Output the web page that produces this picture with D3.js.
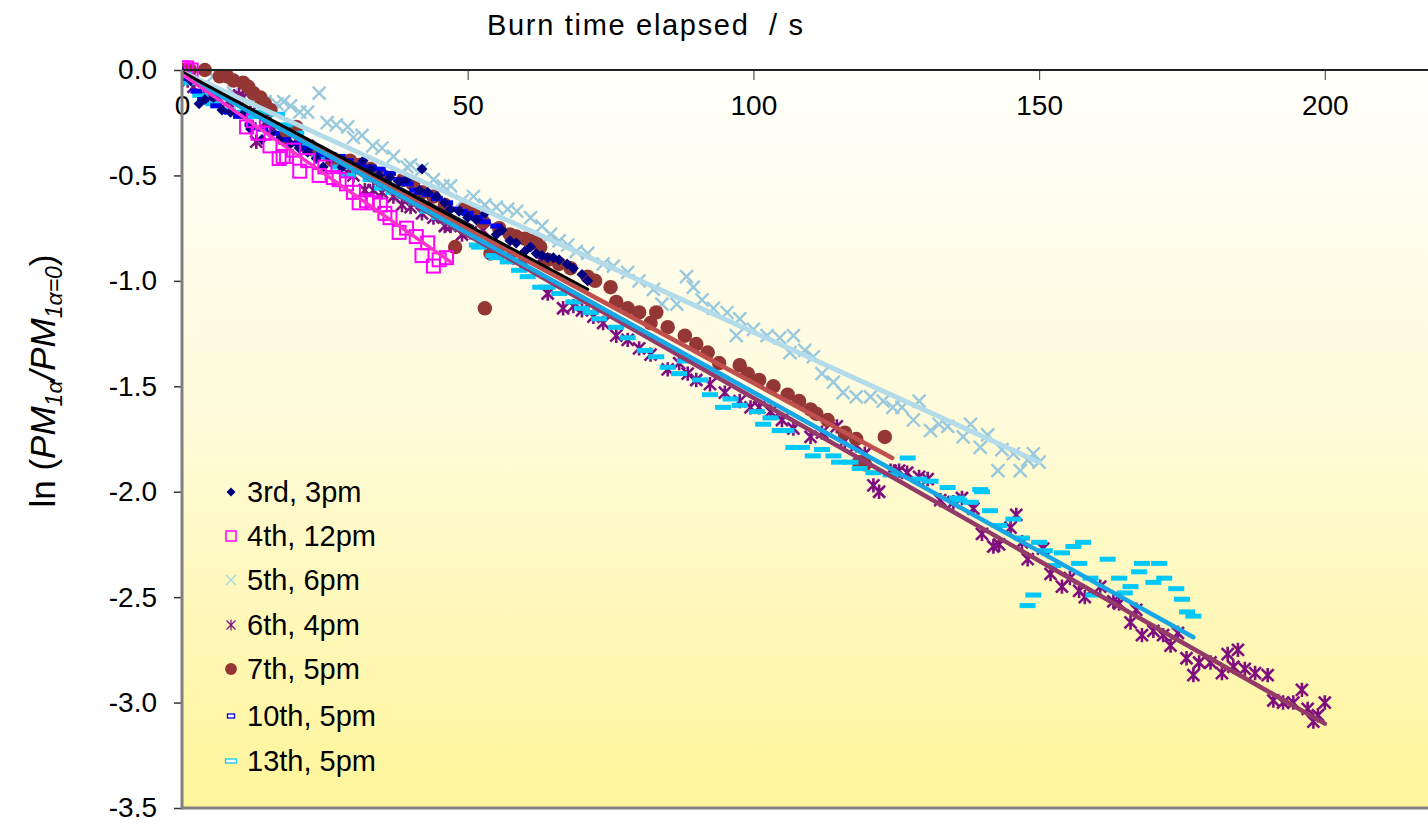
<!DOCTYPE html>
<html>
<head>
<meta charset="utf-8">
<script src="https://cdn.jsdelivr.net/npm/d3@7"></script>
<style>
  html, body { margin: 0; padding: 0; background: #ffffff; }
  svg { display: block; font-family: "Liberation Sans", Arial, sans-serif; }
</style>
</head>
<body>
<svg id="chart" width="1428" height="824"></svg>
<script>
// ---- data: [burn time (s), ln(PM1a / PM1a,t=0)] ----
const xTicks = [0, 50, 100, 150, 200];
const yTicks = [0, -0.5, -1.0, -1.5, -2.0, -2.5, -3.0, -3.5];

const run3rd = [[0,-0.01],[1.5,-0.05],[3,-0.16],[4,-0.14],[5.5,-0.13],[7,-0.19],[8.5,-0.2],[10.7,-0.21],[12,-0.28],[14,-0.33],[15.5,-0.3],[17,-0.33],[19,-0.35],[20.5,-0.37],[22,-0.39],[23.5,-0.42],[24.7,-0.46],[26,-0.42],[28,-0.46],[29.5,-0.45],[31.7,-0.43],[33,-0.47],[34.5,-0.5],[36.4,-0.51],[38,-0.53],[39.3,-0.52],[41.6,-0.57],[42,-0.47],[43,-0.58],[44.6,-0.6],[46,-0.63],[47,-0.66],[48.5,-0.67],[50,-0.7],[51.5,-0.71],[53,-0.68],[55,-0.78],[56,-0.76],[57.4,-0.81],[58.5,-0.82],[60,-0.86],[61,-0.84],[62,-0.87],[63,-0.88],[64,-0.89],[65,-0.89],[66,-0.9],[67.4,-0.92],[68.5,-0.94],[70,-0.97],[71,-1.0]];

const run4th = [[0,0.01],[0.8,0.01],[1.6,0.0],[11.3,-0.27],[12.5,-0.24],[13.3,-0.3],[14.2,-0.3],[15.4,-0.36],[17,-0.42],[17.7,-0.41],[18.3,-0.41],[19.5,-0.38],[20.6,-0.48],[22,-0.43],[24,-0.5],[25,-0.46],[26.5,-0.51],[27.5,-0.52],[28.8,-0.54],[30,-0.58],[31,-0.63],[32.3,-0.62],[33.5,-0.63],[34.7,-0.64],[35.5,-0.68],[36.4,-0.7],[38,-0.77],[39.3,-0.75],[41,-0.79],[42,-0.88],[43,-0.82],[44,-0.93],[45,-0.9],[46.3,-0.89]];

const run5th = [[0,0],[2,-0.02],[5.4,-0.03],[9,-0.11],[12,-0.14],[14.5,-0.15],[16.6,-0.16],[17.8,-0.15],[19,-0.17],[20.6,-0.2],[22,-0.2],[24,-0.11],[25.4,-0.25],[27,-0.26],[29,-0.27],[30,-0.32],[31.5,-0.31],[33.4,-0.36],[35,-0.37],[37,-0.41],[39.4,-0.46],[40,-0.45],[42,-0.47],[44,-0.52],[45.7,-0.55],[47,-0.55],[49,-0.62],[51,-0.6],[53,-0.64],[55,-0.65],[57,-0.66],[58.6,-0.67],[61,-0.7],[63,-0.74],[64.5,-0.78],[66,-0.81],[67.5,-0.83],[69,-0.86],[71,-0.87],[73.7,-0.92],[75.5,-0.93],[78,-0.96],[80,-1.0],[82.5,-1.04],[84,-1.11],[86.6,-1.11],[88.3,-0.98],[89.5,-1.03],[91,-1.09],[93,-1.13],[95.4,-1.15],[97,-1.26],[97.6,-1.18],[100,-1.23],[102.4,-1.26],[104.6,-1.27],[106.4,-1.34],[107,-1.26],[109,-1.33],[110.5,-1.36],[112,-1.44],[114,-1.48],[115.7,-1.53],[118,-1.55],[120.5,-1.55],[122.7,-1.57],[124.4,-1.6],[126,-1.6],[128,-1.66],[129,-1.57],[131,-1.71],[132.5,-1.68],[134,-1.69],[136.7,-1.74],[138,-1.68],[139.7,-1.79],[141,-1.73],[142.8,-1.9],[143.5,-1.8],[145.5,-1.82],[146.7,-1.9],[148,-1.85],[149,-1.82],[150,-1.86]];

const run6th = [[1,-0.05],[2,-0.08],[4,-0.1],[6,-0.12],[8,-0.15],[10,-0.12],[10.7,-0.13],[12,-0.2],[13,-0.34],[14.5,-0.25],[16,-0.28],[18,-0.3],[20,-0.33],[22,-0.36],[24,-0.4],[26,-0.42],[28,-0.46],[30,-0.5],[32,-0.57],[33.5,-0.57],[35,-0.58],[37,-0.6],[38.5,-0.64],[40,-0.65],[42,-0.68],[44,-0.7],[46,-0.74],[47,-0.74],[49,-0.78],[50.5,-0.77],[52.7,-0.76],[54,-0.82],[56,-0.86],[58,-0.89],[60,-0.92],[62.7,-0.9],[64,-1.06],[66.7,-1.13],[68.5,-1.12],[70,-1.14],[72,-1.17],[73.7,-1.2],[76,-1.26],[78,-1.28],[80,-1.32],[82,-1.35],[85,-1.42],[87,-1.39],[88.5,-1.44],[90,-1.47],[92.4,-1.49],[95,-1.53],[97.6,-1.57],[99.5,-1.6],[101,-1.6],[103,-1.62],[105,-1.66],[107,-1.7],[110,-1.74],[112,-1.72],[114.6,-1.69],[116,-1.76],[118,-1.78],[119.5,-1.82],[121,-1.97],[122,-2.0],[124,-1.9],[125.5,-1.9],[126.9,-1.91],[129,-1.93],[130.5,-1.94],[132.7,-2.04],[135,-2.05],[136.5,-2.03],[138.5,-2.08],[140,-2.2],[142,-2.26],[143,-2.25],[145,-2.17],[146,-2.11],[147,-2.24],[148,-2.32],[150.7,-2.27],[152,-2.39],[154,-2.45],[155.4,-2.41],[157,-2.47],[158,-2.5],[160.7,-2.45],[163,-2.52],[164,-2.53],[166,-2.62],[167,-2.56],[168,-2.68],[170,-2.66],[171.7,-2.68],[173,-2.73],[174.3,-2.67],[175.8,-2.79],[177,-2.87],[178,-2.81],[180,-2.81],[182,-2.86],[183,-2.77],[184,-2.83],[184.8,-2.75],[186,-2.84],[187.8,-2.86],[190,-2.87],[191,-2.99],[192.7,-3.0],[194.5,-3.0],[196,-2.94],[197,-3.03],[198,-3.09],[198.8,-3.06],[200,-3.0]];

const run7th = [[0,0.0],[1.4,0.0],[4,0.0],[6.6,-0.03],[7.9,-0.03],[9,-0.05],[10.7,-0.06],[11.6,-0.08],[12.5,-0.11],[13.7,-0.13],[14.5,-0.16],[15.5,-0.19],[17.7,-0.32],[20,-0.27],[22.4,-0.37],[23.5,-0.39],[26.4,-0.43],[29.4,-0.43],[31,-0.45],[33,-0.47],[35,-0.5],[38.7,-0.52],[40.4,-0.54],[42,-0.58],[44,-0.6],[46,-0.64],[47.8,-0.84],[49.5,-0.66],[51,-0.68],[52.7,-0.72],[53,-1.13],[54,-0.87],[55.5,-0.75],[57.4,-0.78],[58.5,-0.79],[60,-0.8],[61,-0.81],[62,-0.82],[62.7,-0.84],[64,-0.9],[66,-0.92],[68,-0.94],[71,-0.98],[72.3,-1.0],[75,-1.03],[76,-1.1],[78,-1.13],[80,-1.15],[82,-1.2],[83,-1.15],[85,-1.22],[88,-1.26],[90,-1.3],[92,-1.34],[94,-1.39],[97.6,-1.4],[99,-1.44],[101,-1.47],[103.5,-1.5],[106,-1.54],[108,-1.57],[110,-1.61],[111,-1.63],[113,-1.66],[116,-1.72],[118,-1.75],[118.5,-1.86],[119.5,-1.87],[123,-1.74]];

const run10th = [[1,-0.04],[2.5,-0.1],[3.7,-0.14],[6,-0.17],[8.4,-0.2],[10,-0.22],[12,-0.26],[14,-0.28],[16,-0.3],[18,-0.33],[20,-0.35],[22,-0.37],[24.5,-0.4],[26,-0.41],[27.6,-0.41],[29,-0.43],[31,-0.45],[33,-0.46],[34.6,-0.47],[36.4,-0.49],[38,-0.52],[39.5,-0.54],[40.8,-0.57],[41.6,-0.58],[43,-0.59],[44.6,-0.61],[46.4,-0.63],[48,-0.66],[49,-0.67],[50,-0.68],[51,-0.7],[51.6,-0.7],[53,-0.72],[55,-0.74]];

const run13th = [[0.5,-0.02],[1.4,-0.06],[3.2,-0.12],[5.5,-0.16],[8,-0.19],[10,-0.2],[12,-0.22],[14,-0.2],[16.6,-0.21],[18,-0.26],[20,-0.3],[22,-0.35],[24,-0.41],[26,-0.42],[27.5,-0.46],[29,-0.5],[31,-0.48],[33,-0.52],[35,-0.56],[37,-0.58],[39,-0.6],[41,-0.63],[43,-0.67],[45,-0.7],[47,-0.72],[49,-0.75],[51.6,-0.83],[52,-0.84],[54.5,-0.88],[55,-0.89],[57,-0.91],[59,-0.95],[60.5,-0.98],[62.7,-1.03],[64,-1.03],[66,-1.06],[68.5,-1.1],[70,-1.13],[71.5,-1.15],[73,-1.18],[76,-1.22],[78,-1.27],[81,-1.33],[83,-1.36],[85,-1.41],[87,-1.44],[88,-1.38],[90.7,-1.47],[92.4,-1.54],[94.7,-1.6],[96,-1.56],[97.6,-1.59],[100.6,-1.62],[101.7,-1.68],[103,-1.65],[104.6,-1.71],[105.8,-1.71],[107,-1.79],[108.5,-1.79],[110.4,-1.83],[112,-1.8],[114,-1.83],[115,-1.86],[117,-1.86],[118.6,-1.89],[121,-1.91],[124,-1.92],[127,-1.84],[129,-1.94],[131,-1.95],[134,-1.98],[135.6,-2.03],[136,-2.04],[138,-2.05],[139.7,-1.99],[140,-2.0],[141.4,-2.09],[143,-2.16],[145.5,-2.13],[147,-2.22],[148,-2.54],[149,-2.49],[150,-2.24],[151,-2.28],[152.5,-2.35],[154,-2.29],[156,-2.26],[157,-2.34],[157.7,-2.24],[159,-2.41],[159.5,-2.49],[162,-2.32],[164,-2.41],[165,-2.48],[166,-2.45],[167.5,-2.38],[168,-2.34],[170,-2.43],[171,-2.34],[171.9,-2.41],[174,-2.46],[175,-2.51],[175.9,-2.57],[177,-2.59]];

// linear trend lines: start and end points
const trend3rd  = [[0,-0.01],[71,-1.04]];
const trend4th  = [[0,-0.02],[47,-0.91]];
const trend5th  = [[0,-0.01],[150,-1.86]];
const trend6th  = [[0,-0.01],[200,-3.10]];
const trend7th  = [[0,-0.02],[124.3,-1.84]];
const trend10th = [[0,-0.01],[51,-0.74]];
const trend13th = [[0,-0.02],[177,-2.69]];

const seriesNames = ["3rd, 3pm","4th, 12pm","5th, 6pm","6th, 4pm","7th, 5pm","10th, 5pm","13th, 5pm"];

(function () {
// ---- layout ----
const svg = d3.select("#chart");
const W = 1428;
const plotLeft = 182, plotTop = 70, plotBottom = 808;
const pxPerSec = 5.714;

const x = d3.scaleLinear().domain([0, 250]).range([plotLeft, plotLeft + 250 * pxPerSec]);
const y = d3.scaleLinear().domain([-3.5, 0]).range([plotBottom, plotTop]);

// background gradient of the plot area
const defs = svg.append("defs");
const grad = defs.append("linearGradient").attr("id", "bg").attr("x1", 0).attr("y1", 0).attr("x2", 0).attr("y2", 1);
grad.append("stop").attr("offset", "0%").attr("stop-color", "#fffffb");
grad.append("stop").attr("offset", "45%").attr("stop-color", "#fffbdc");
grad.append("stop").attr("offset", "100%").attr("stop-color", "#fff59a");
defs.append("clipPath").attr("id", "plotclip").append("rect")
  .attr("x", plotLeft).attr("y", plotTop - 10).attr("width", W - plotLeft).attr("height", plotBottom - plotTop + 20);

svg.append("rect").attr("x", plotLeft).attr("y", plotTop).attr("width", W - plotLeft).attr("height", plotBottom - plotTop)
  .attr("fill", "url(#bg)");

// ---- marker shapes ----
function diamondPath(s) { return `M0,${-s}L${s},0L0,${s}L${-s},0Z`; }
const circle = d3.symbol().type(d3.symbolCircle).size(165)();
function crossPath(s) { return `M${-s},${-s}L${s},${s}M${-s},${s}L${s},${-s}`; }
function starPath(s) { return `M${-s},${-s}L${s},${s}M${-s},${s}L${s},${-s}M0,${-s*1.2}L0,${s*1.2}`; }

const plot = svg.append("g").attr("clip-path", "url(#plotclip)");
const gMarks = plot.append("g");
const gLines = plot.append("g");

function drawPoints(data, cls, fn) {
  const g = gMarks.append("g").attr("class", cls);
  g.selectAll("g").data(data).enter().append("g")
    .attr("transform", d => `translate(${x(d[0])},${y(d[1])})`)
    .each(function () { fn(d3.select(this)); });
}

// light blue crosses
drawPoints(run5th, "s5", s => s.append("path").attr("d", crossPath(6.5)).attr("stroke", "#99c9de").attr("stroke-width", 2.4).attr("fill", "none"));
// purple asterisks
drawPoints(run6th, "s6", s => s.append("path").attr("d", starPath(6)).attr("stroke", "#7f0f7f").attr("stroke-width", 2.6).attr("fill", "none"));
// brown dots
drawPoints(run7th, "s7", s => s.append("path").attr("d", circle).attr("fill", "#943634"));
// cyan dashes
drawPoints(run13th, "s13", s => s.append("rect").attr("x", -8).attr("y", -2.5).attr("width", 16).attr("height", 5).attr("fill", "#00c8f8"));
// blue dashes
drawPoints(run10th, "s10", s => s.append("rect").attr("x", -6).attr("y", -2.5).attr("width", 12).attr("height", 5).attr("fill", "#0000f0"));
// navy diamonds
drawPoints(run3rd, "s3", s => s.append("path").attr("d", diamondPath(5.5)).attr("fill", "#000080"));
// magenta open squares
drawPoints(run4th, "s4", s => s.append("rect").attr("x", -6.5).attr("y", -6.5).attr("width", 13).attr("height", 13)
  .attr("fill", "none").attr("stroke", "#ff00ff").attr("stroke-width", 2));

// ---- trend lines ----
const line = d3.line().x(d => x(d[0])).y(d => y(d[1]));
function drawTrend(data, color, width) {
  gLines.append("path").datum(data).attr("d", line).attr("fill", "none")
    .attr("stroke", color).attr("stroke-width", width).attr("stroke-linecap", "round");
}
drawTrend(trend5th, "#b4dbea", 5);
drawTrend(trend6th, "#933a68", 4.5);
drawTrend(trend7th, "#c0504d", 4.5);
drawTrend(trend13th, "#17a6e6", 4.5);
drawTrend(trend10th, "#1a1a40", 1.5);
drawTrend(trend3rd, "#000000", 3);
drawTrend(trend4th, "#ff33cc", 3.5);

// ---- axes ----
const xAxis = d3.axisBottom(x).tickValues(xTicks).tickSize(10).tickPadding(15).tickFormat(d3.format("d"));
const gx = svg.append("g").attr("transform", `translate(0,${plotTop})`).call(xAxis);
gx.select(".domain").remove();
gx.selectAll(".tick line").attr("stroke", "#555").attr("stroke-width", 1.2);
gx.selectAll(".tick text").attr("font-size", 28).attr("fill", "#000").attr("font-family", "Liberation Sans, Arial, sans-serif");
svg.append("line").attr("x1", plotLeft).attr("x2", W).attr("y1", plotTop).attr("y2", plotTop)
  .attr("stroke", "#222").attr("stroke-width", 2);

const yAxis = d3.axisLeft(y).tickValues(yTicks).tickSize(8).tickPadding(17).tickFormat(d => d.toFixed(1));
const gy = svg.append("g").attr("transform", `translate(${plotLeft},0)`).call(yAxis);
gy.select(".domain").remove();
gy.selectAll(".tick line").attr("stroke", "#333").attr("stroke-width", 1.5);
gy.selectAll(".tick text").attr("font-size", 28).attr("fill", "#000").attr("font-family", "Liberation Sans, Arial, sans-serif");
svg.append("line").attr("x1", plotLeft).attr("x2", plotLeft).attr("y1", plotTop).attr("y2", plotBottom + 1.5)
  .attr("stroke", "#808080").attr("stroke-width", 3);
svg.append("line").attr("x1", plotLeft).attr("x2", W).attr("y1", plotBottom).attr("y2", plotBottom)
  .attr("stroke", "#808080").attr("stroke-width", 3);

// ---- titles ----
svg.append("text").attr("x", 487).attr("y", 35)
  .attr("font-size", 29).attr("fill", "#000")
  .attr("textLength", 316).attr("lengthAdjust", "spacing")
  .text("Burn time elapsed\u00A0 / s");

const yl = svg.append("text").attr("transform", "translate(55,381) rotate(-90)")
  .attr("text-anchor", "middle").attr("font-size", 35).attr("fill", "#000");
yl.append("tspan").text("ln (");
yl.append("tspan").attr("font-style", "italic").text("PM");
yl.append("tspan").attr("font-style", "italic").attr("font-size", 23).attr("dy", 7).text("1\u03B1");
yl.append("tspan").attr("font-style", "italic").attr("dy", -7).text("/PM");
yl.append("tspan").attr("font-style", "italic").attr("font-size", 23).attr("dy", 7).text("1\u03B1=0");
yl.append("tspan").attr("dy", -7).text(")");

// ---- legend ----
const legY = [492, 536, 580, 625, 669, 716, 761];
const legend = svg.append("g");
const legendMarks = [
  g => g.append("path").attr("d", diamondPath(4.5)).attr("fill", "#000080"),
  g => g.append("rect").attr("x", -5).attr("y", -5).attr("width", 10).attr("height", 10).attr("fill", "none").attr("stroke", "#ff00ff").attr("stroke-width", 1.5),
  g => g.append("path").attr("d", crossPath(5)).attr("stroke", "#a8d4e4").attr("stroke-width", 1.2).attr("fill", "none"),
  g => g.append("path").attr("d", starPath(4.5)).attr("stroke", "#7f0f7f").attr("stroke-width", 1.2).attr("fill", "none"),
  g => g.append("path").attr("d", d3.symbol().type(d3.symbolCircle).size(110)()).attr("fill", "#943634"),
  g => g.append("rect").attr("x", -3.5).attr("y", -2).attr("width", 7).attr("height", 4).attr("fill", "#fff").attr("stroke", "#0000e0").attr("stroke-width", 1.3),
  g => g.append("rect").attr("x", -5.5).attr("y", -2).attr("width", 11).attr("height", 4).attr("fill", "#fff").attr("stroke", "#19c6ea").attr("stroke-width", 1.3)
];
seriesNames.forEach((name, i) => {
  const g = legend.append("g").attr("transform", `translate(231,${legY[i]})`);
  legendMarks[i](g);
  legend.append("text").attr("x", 247).attr("y", legY[i] + 10).attr("font-size", 29)
    .attr("fill", "#000").text(name);
});
})();
</script>
</body>
</html>
